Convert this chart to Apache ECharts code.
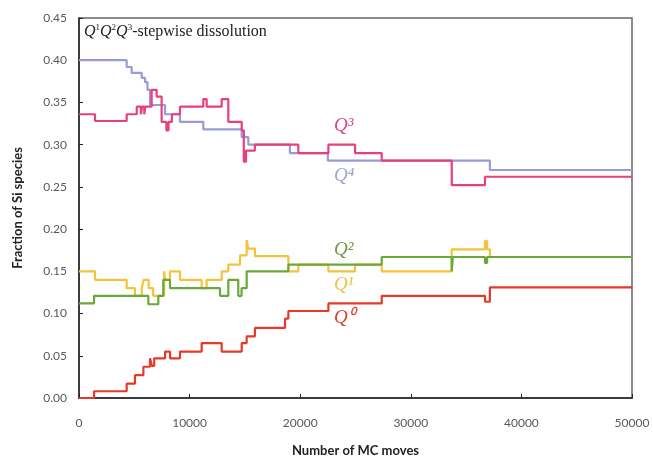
<!DOCTYPE html>
<html>
<head>
<meta charset="utf-8">
<script src="https://cdn.jsdelivr.net/npm/echarts@6/dist/echarts.min.js"></script>
<style>
  html, body { margin: 0; padding: 0; background: #fff; }
  #main { width: 653px; height: 458px; }
</style>
</head>
<body>
<div id="main"></div>
<script>
// step data: value holds from x[i] until x[i+1]
var q4X = [0, 4310, 4760, 5670, 5970, 6190, 6420, 7780, 9130, 11240, 14710, 15310, 19070, 22500, 37150, 50000];
var q4Y = [0.400, 0.392, 0.385, 0.379, 0.374, 0.365, 0.347, 0.336, 0.327, 0.318, 0.309, 0.300, 0.290, 0.281, 0.270, 0.270];

var q3X = [0, 1450, 4310, 5220, 5600, 5700, 5900, 6000, 6570, 7020, 7470, 7900, 8100, 8400, 9130, 11240, 11540, 12900, 13500, 14710, 14900, 15100, 15900, 19830, 22550, 24960, 27370, 33700, 36710, 50000];
var q3Y = [0.336, 0.328, 0.336, 0.345, 0.336, 0.345, 0.336, 0.345, 0.365, 0.357, 0.327, 0.317, 0.327, 0.336, 0.345, 0.354, 0.345, 0.354, 0.327, 0.317, 0.280, 0.293, 0.300, 0.290, 0.300, 0.290, 0.281, 0.252, 0.262, 0.262];

var q2X = [0, 1360, 6270, 7170, 7620, 8230, 12750, 13500, 14400, 14700, 15160, 18930, 27370, 33700, 33800, 36710, 36900, 50000];
var q2Y = [0.112, 0.121, 0.111, 0.121, 0.140, 0.130, 0.121, 0.140, 0.121, 0.130, 0.150, 0.158, 0.167, 0.150, 0.167, 0.160, 0.167, 0.167];

var q1X = [0, 1450, 4310, 5060, 5670, 5850, 6300, 6700, 7700, 7800, 8230, 9130, 11090, 11540, 12900, 13500, 14560, 15160, 15300, 15910, 18930, 19830, 22550, 24960, 27370, 33700, 36710, 36900, 37150, 50000];
var q1Y = [0.150, 0.140, 0.130, 0.121, 0.130, 0.140, 0.130, 0.121, 0.150, 0.140, 0.150, 0.140, 0.130, 0.140, 0.150, 0.158, 0.169, 0.187, 0.177, 0.168, 0.150, 0.158, 0.150, 0.158, 0.150, 0.176, 0.186, 0.176, 0.167, 0.167];

var q0X = [0, 1360, 4310, 5060, 5820, 6420, 6600, 6800, 7780, 8230, 9130, 11090, 12900, 14710, 15160, 15910, 18630, 18930, 22550, 27370, 36710, 37150, 50000];
var q0Y = [0, 0.008, 0.017, 0.027, 0.037, 0.047, 0.038, 0.047, 0.055, 0.047, 0.055, 0.065, 0.055, 0.065, 0.073, 0.083, 0.094, 0.103, 0.112, 0.121, 0.114, 0.131, 0.131];

function pairs(xs, ys) {
    return xs.map(function (x, i) { return [x, ys[i]]; });
}

function stepLine(name, xs, ys, color) {
    return {
        name: name,
        type: 'line',
        step: 'end',
        symbol: 'none',
        data: pairs(xs, ys),
        lineStyle: { color: color, width: 2.2 },
        animation: false
    };
}

function label(txt, x, y, color) {
    return {
        type: 'text',
        left: x,
        top: y,
        style: {
            text: txt,
            fill: color,
            font: 'italic 19px "Liberation Serif", serif'
        }
    };
}

var myChart = echarts.init(document.getElementById('main'));
var options = {
    backgroundColor: '#fff',
    grid: {
        left: 79, right: 21, top: 18, bottom: 60,
        outerBoundsMode: 'none',
        show: true, borderColor: '#666', borderWidth: 1.5
    },
    xAxis: {
        type: 'value',
        min: 0, max: 50000, interval: 10000,
        name: 'Number of MC moves',
        nameLocation: 'middle',
        nameGap: 46,
        nameTextStyle: { fontFamily: 'Lato', fontWeight: 'bold', fontSize: 13, color: '#222' },
        axisLine: { lineStyle: { color: '#222', width: 1.5 } },
        axisTick: { inside: true, length: 4, lineStyle: { color: '#222' } },
        axisLabel: {
            fontFamily: 'Lato', fontSize: 12, color: '#595959', margin: 19,
            formatter: function (v) { return String(v); }
        },
        splitLine: { show: false }
    },
    yAxis: {
        type: 'value',
        min: 0, max: 0.45, interval: 0.05,
        name: 'Fraction of Si species',
        nameLocation: 'middle',
        nameGap: 55,
        nameTextStyle: { fontFamily: 'Lato', fontWeight: 'bold', fontSize: 13, color: '#222' },
        axisLine: { show: true, lineStyle: { color: '#222', width: 1.5 } },
        axisTick: { show: true, inside: true, length: 4, lineStyle: { color: '#222' } },
        axisLabel: {
            fontFamily: 'Lato', fontSize: 12, color: '#595959', margin: 12,
            formatter: function (v) { return v.toFixed(2); }
        },
        splitLine: { show: false }
    },
    series: [
        stepLine('Q4', q4X, q4Y, '#9a9ad6'),
        stepLine('Q3', q3X, q3Y, '#e6407f'),
        stepLine('Q1', q1X, q1Y, '#f5c23c'),
        stepLine('Q2', q2X, q2Y, '#6aa83c'),
        stepLine('Q0', q0X, q0Y, '#e53a2a')
    ],
    graphic: [
        {
            type: 'text',
            left: 84,
            top: 23,
            style: {
                text: '{q|Q}{s|1}{q|Q}{s|2}{q|Q}{s|3}{t|-stepwise dissolution}',
                rich: {
                    q: { font: 'italic 16px "Liberation Serif", serif', fill: '#222' },
                    s: { font: '9px "Liberation Serif", serif', fill: '#222', padding: [0, 0, 8, 0] },
                    t: { font: '16px "Liberation Serif", serif', fill: '#222' }
                }
            }
        },
        label('Q\u00b3', 334, 116, '#d9458a'),
        label('Q\u2074', 334, 166, '#a3a3d1'),
        label('Q\u00b2', 334, 240, '#6f9a45'),
        label('Q\u00b9', 334, 275, '#eec24a'),
        label('Q\u2070', 334, 308, '#d8432f')
    ]
};
myChart.setOption(options);
</script>
</body>
</html>
